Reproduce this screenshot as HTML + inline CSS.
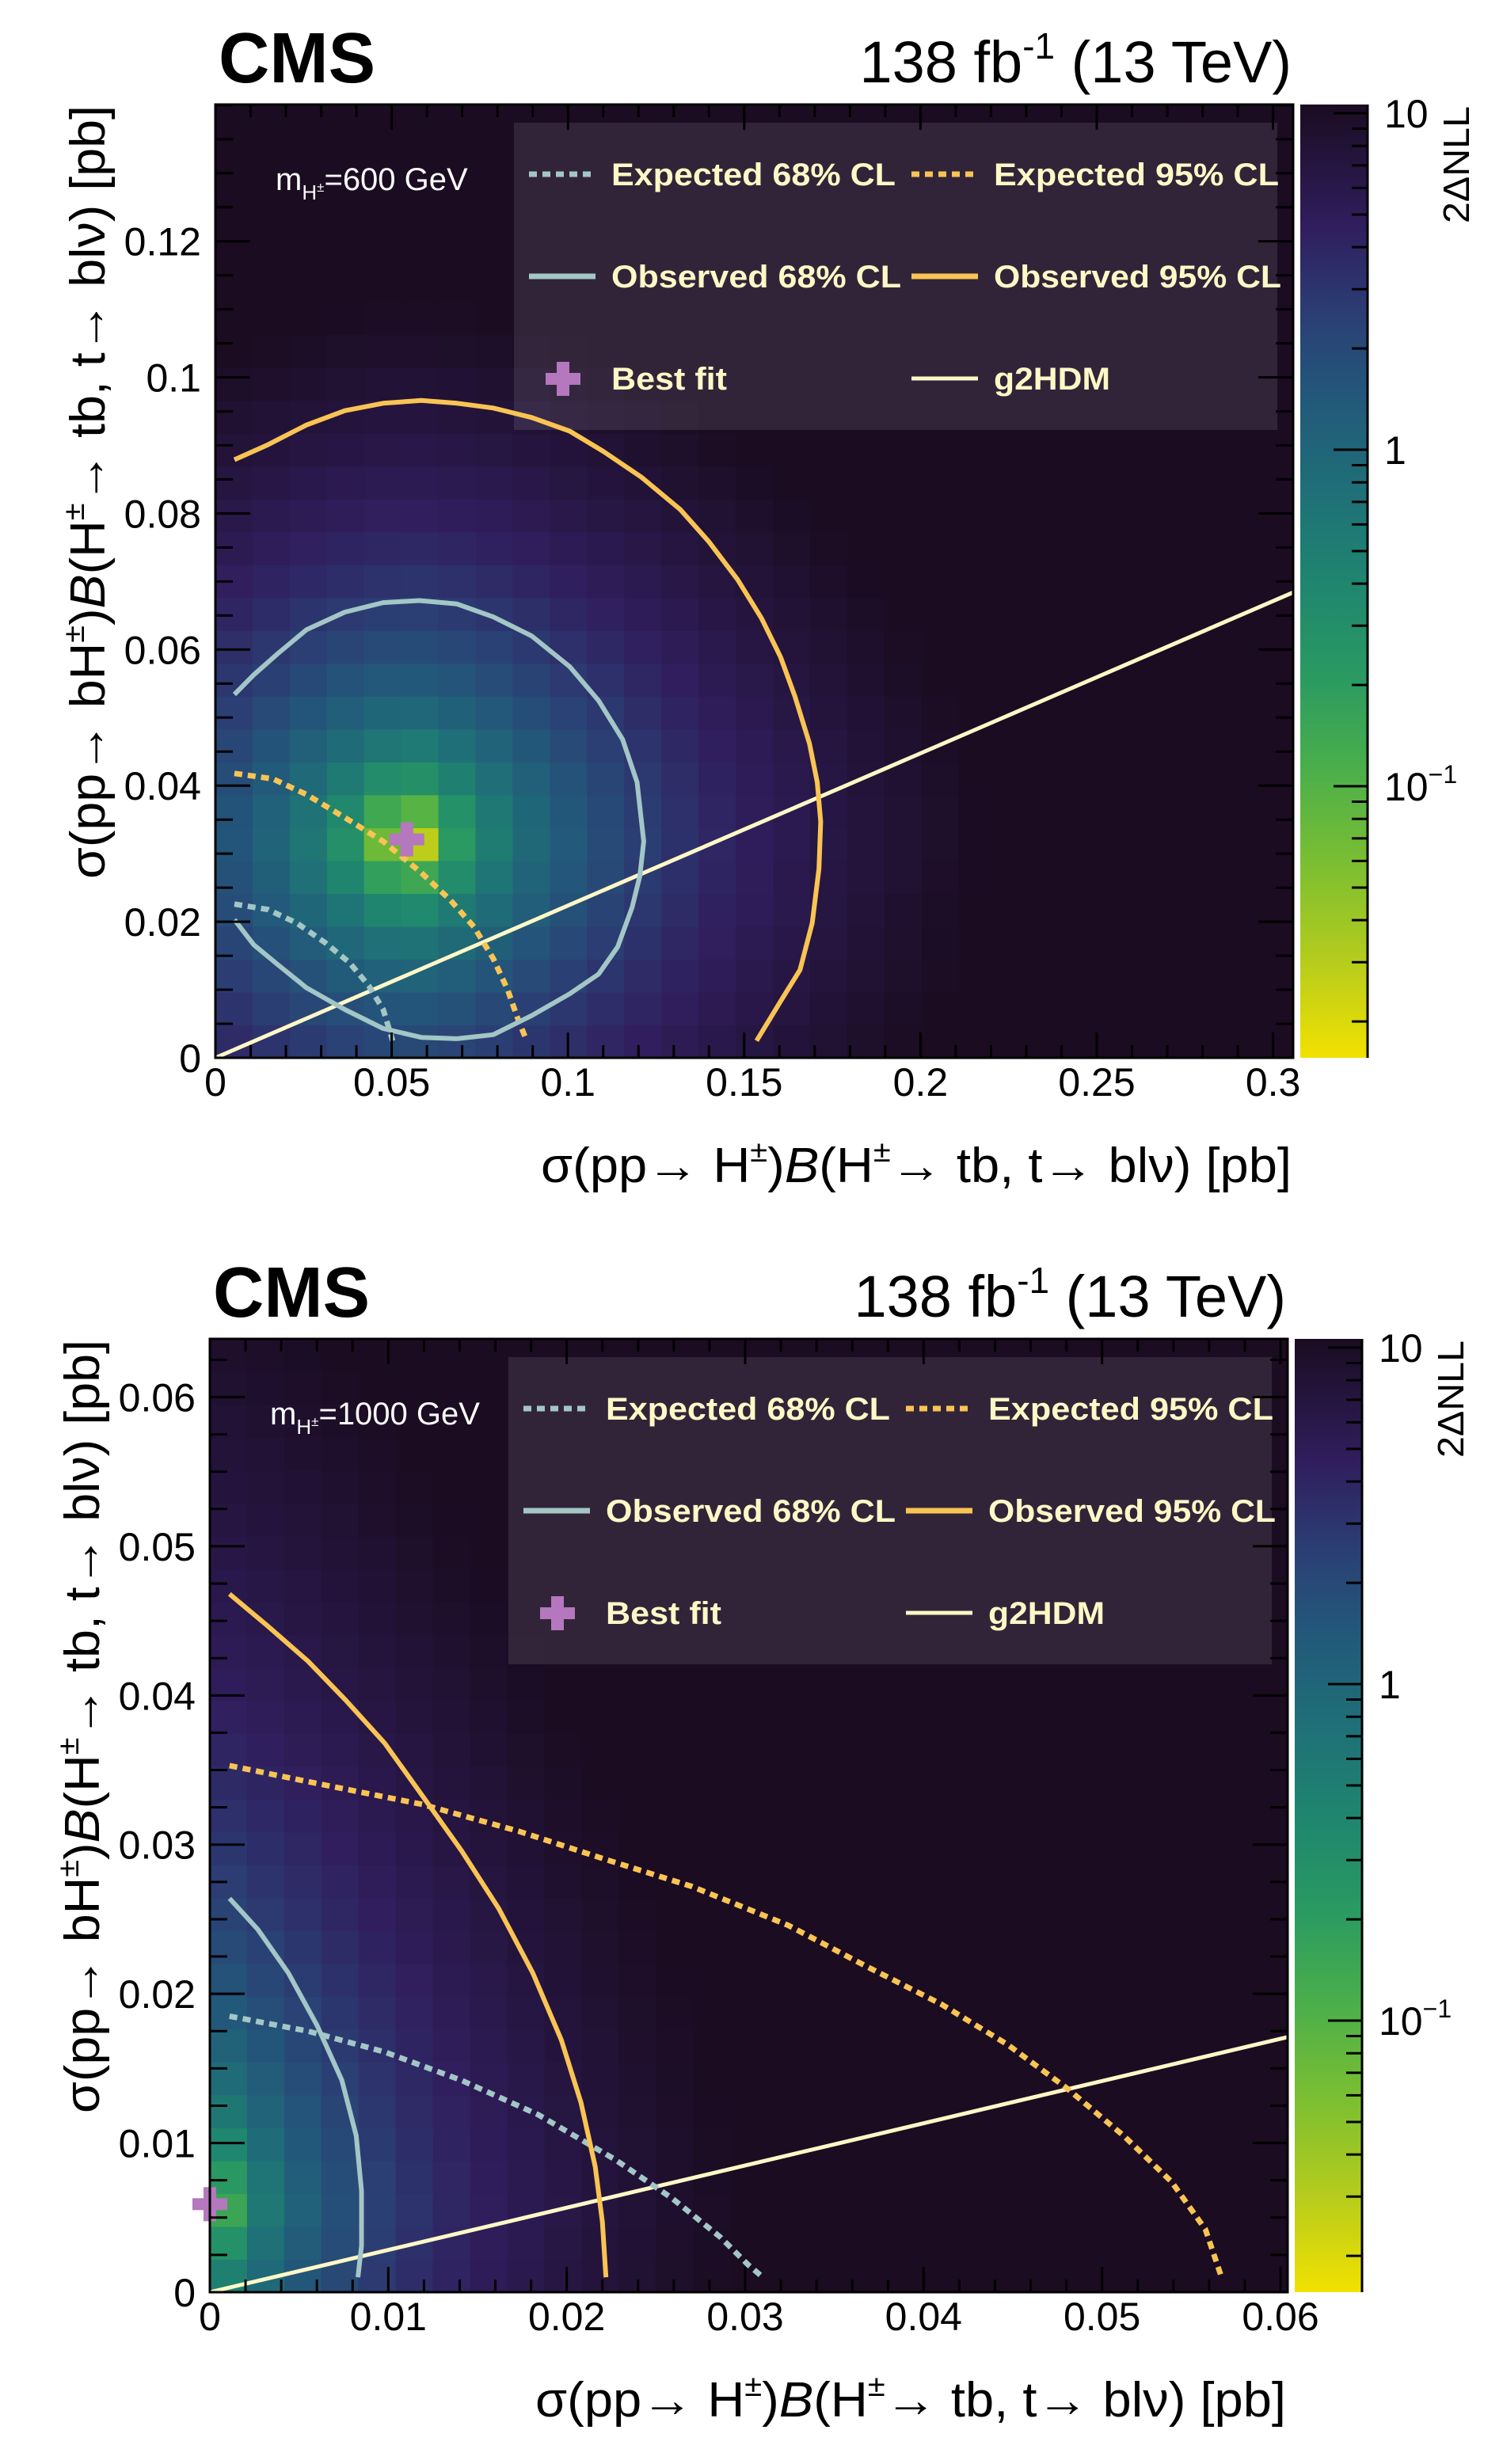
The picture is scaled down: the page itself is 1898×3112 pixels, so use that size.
<!DOCTYPE html>
<html><head><meta charset="utf-8"><title>CMS 2ΔNLL scans</title>
<style>
html,body{margin:0;padding:0;background:#fff;}
svg{display:block;font-family:"Liberation Sans",Arial,sans-serif;}
</style></head>
<body>
<svg id="fig" xmlns="http://www.w3.org/2000/svg" width="1898" height="3112" viewBox="0 0 1898 3112"></svg>
<script>
// ---------- Panel 1: m_H = 600 GeV ----------
const p1Title = "600";
const p1XRange = [0, 0.3057];
const p1YRange = [0, 0.1401];
const p1XTicks = [0, 0.05, 0.1, 0.15, 0.2, 0.25, 0.3];
const p1XTickLabels = ["0", "0.05", "0.1", "0.15", "0.2", "0.25", "0.3"];
const p1YTicks = [0, 0.02, 0.04, 0.06, 0.08, 0.1, 0.12];
const p1YTickLabels = ["0", "0.02", "0.04", "0.06", "0.08", "0.1", "0.12"];
const p1XMinorStep = [0.01];
const p1YMinorStep = [0.005];
const p1BestFit = [0.0543, 0.0321];
const p1NllWidth = [0.0374, 0.0196];
const p1NllPower = [1.6, 1.7];
const p1ObsCL95X = [0.0054,0.0149,0.0258,0.0367,0.0476,0.0584,0.0685,0.0788,0.0897,0.1005,0.1101,0.1209,0.1318,0.1399,0.1481,0.1549,0.1603,0.1644,0.1685,0.1707,0.1717,0.1712,0.1693,0.1658,0.1603,0.1535];
const p1ObsCL95Y = [0.0879,0.0901,0.0930,0.0951,0.0962,0.0966,0.0962,0.0955,0.0941,0.0921,0.0891,0.0853,0.0806,0.0759,0.0703,0.0646,0.0589,0.0531,0.0462,0.0405,0.0347,0.0278,0.0198,0.0129,0.0083,0.0025];
const p1ObsCL68X = [0.0054,0.0109,0.0177,0.0258,0.0367,0.0476,0.0579,0.0685,0.0788,0.0897,0.1005,0.1087,0.1155,0.1196,0.1215,0.1204,0.1182,0.1141,0.1087,0.1005,0.0897,0.0788,0.0685,0.0584,0.0476,0.0367,0.0258,0.0177,0.0109,0.0054];
const p1ObsCL68Y = [0.0534,0.0563,0.0594,0.0629,0.0655,0.0669,0.0672,0.0667,0.0648,0.0620,0.0575,0.0525,0.0468,0.0405,0.0318,0.0267,0.0221,0.0163,0.0123,0.0094,0.0062,0.0034,0.0028,0.0030,0.0043,0.0071,0.0103,0.0137,0.0166,0.0203];
const p1ExpCL95X = [0.0054,0.0163,0.0258,0.0367,0.0476,0.0584,0.0666,0.0734,0.0788,0.0829,0.0856,0.0883];
const p1ExpCL95Y = [0.0418,0.0410,0.0387,0.0353,0.0318,0.0272,0.0232,0.0192,0.0146,0.0100,0.0060,0.0025];
const p1ExpCL68X = [0.0054,0.0149,0.0231,0.0312,0.0380,0.0435,0.0476,0.0503];
const p1ExpCL68Y = [0.0226,0.0218,0.0198,0.0169,0.0140,0.0106,0.0071,0.0025];
const p1G2hdmX = [0, 0.3057];
const p1G2hdmY = [0, 0.0684];

// ---------- Panel 2: m_H = 1000 GeV ----------
const p2Title = "1000";
const p2XRange = [0, 0.0604];
const p2YRange = [0, 0.0639];
const p2XTicks = [0, 0.01, 0.02, 0.03, 0.04, 0.05, 0.06];
const p2XTickLabels = ["0", "0.01", "0.02", "0.03", "0.04", "0.05", "0.06"];
const p2YTicks = [0, 0.01, 0.02, 0.03, 0.04, 0.05, 0.06];
const p2YTickLabels = ["0", "0.01", "0.02", "0.03", "0.04", "0.05", "0.06"];
const p2XMinorStep = [0.002];
const p2YMinorStep = [0.0025];
const p2BestFit = [0.0, 0.0059];
const p2NllWidth = [0.0048, 0.011];
const p2NllPower = [1.3, 1.33];
const p2ObsCL95X = [0.0011,0.0032,0.0055,0.0076,0.0098,0.0119,0.0141,0.0162,0.0181,0.0197,0.0208,0.0216,0.0220,0.0222];
const p2ObsCL95Y = [0.0468,0.0447,0.0423,0.0397,0.0368,0.0333,0.0296,0.0257,0.0214,0.0169,0.0127,0.0084,0.0047,0.0010];
const p2ObsCL68X = [0.0011,0.0027,0.0044,0.0060,0.0074,0.0082,0.0085,0.0085,0.0083];
const p2ObsCL68Y = [0.0264,0.0243,0.0214,0.0179,0.0142,0.0105,0.0068,0.0031,0.0010];
const p2ExpCL95X = [0.0011,0.0060,0.0119,0.0173,0.0222,0.0270,0.0324,0.0367,0.0410,0.0447,0.0480,0.0512,0.0539,0.0558,0.0567];
const p2ExpCL95Y = [0.0353,0.0341,0.0327,0.0309,0.0290,0.0272,0.0246,0.0219,0.0193,0.0166,0.0137,0.0105,0.0074,0.0042,0.0010];
const p2ExpCL68X = [0.0011,0.0055,0.0098,0.0141,0.0184,0.0227,0.0259,0.0286,0.0302,0.0310];
const p2ExpCL68Y = [0.0185,0.0175,0.0161,0.0142,0.0119,0.0089,0.0063,0.0037,0.0018,0.0010];
const p2G2hdmX = [0, 0.0604];
const p2G2hdmY = [0, 0.0171];

const zRange = [-1.807, 1.026]; // log10 of 2ΔNLL colour range
const zTicks = [10, 1, 0.1];

const NS = "http://www.w3.org/2000/svg";
const svg = document.getElementById("fig");
function mk(tag, attrs, parent) {
  const e = document.createElementNS(NS, tag);
  for (const k in attrs) e.setAttribute(k, attrs[k]);
  (parent || svg).appendChild(e);
  return e;
}
const stops = [[0,[242,225,0]],[0.1,[182,204,28]],[0.2,[125,191,49]],[0.3,[76,175,74]],[0.4,[42,154,98]],[0.5,[31,133,111]],[0.6,[31,110,120]],[0.7,[35,86,122]],[0.78,[43,62,116]],[0.87,[48,30,94]],[1,[27,12,34]]];
function cmap(t) {
  t = Math.max(0, Math.min(1, t));
  for (let i = 1; i < stops.length; i++) {
    if (t <= stops[i][0]) {
      const a = stops[i-1], b = stops[i], f = (t - a[0]) / (b[0] - a[0]);
      const c = a[1].map((v, j) => Math.round(v + (b[1][j] - v) * f));
      return "rgb(" + c.join(",") + ")";
    }
  }
  return "rgb(27,12,34)";
}

function panel(P, ox, oy) {
  const L = 272 + ox, T = 132 + oy, W = 1361, H = 1204;
  const g = mk("g", {});
  
  
  const sx = v => L + (v - P.xr[0]) / (P.xr[1] - P.xr[0]) * W;
  const sy = v => T + H - (v - P.yr[0]) / (P.yr[1] - P.yr[0]) * H;

  const hm = mk("g", {}, g);
  
  
  const nb = 29;
  for (let i = 0; i < nb; i++) for (let j = 0; j < nb; j++) {
    const x0 = P.xr[0] + (P.xr[1] - P.xr[0]) * i / nb, x1 = P.xr[0] + (P.xr[1] - P.xr[0]) * (i + 1) / nb;
    const y0 = P.yr[0] + (P.yr[1] - P.yr[0]) * j / nb, y1 = P.yr[0] + (P.yr[1] - P.yr[0]) * (j + 1) / nb;
    const cx = (x0 + x1) / 2, cy = (y0 + y1) / 2;
    const v = Math.pow(Math.abs(cx - P.bf[0]) / P.w[0], P.p[0]) + Math.pow(Math.abs(cy - P.bf[1]) / P.w[1], P.p[1]);
    const t = (Math.log10(Math.max(v, 1e-3)) - zRange[0]) / (zRange[1] - zRange[0]);
    const r = mk("rect", {x: sx(x0).toFixed(1), y: sy(y1).toFixed(1), width: (sx(x1) - sx(x0) + 0.6).toFixed(1), height: (sy(y0) - sy(y1) + 0.6).toFixed(1), fill: cmap(t)}, hm);
    
    
  }

  const lg = mk("g", {}, g);
  
  
  mk("rect", {x: 649 + ox, y: 155 + oy, width: 964, height: 388, fill: "rgba(255,255,255,0.1)"}, lg);
  const cream = "#fff8c6";
  const rows = [
    [668, 220, "Expected 68% CL", "#a3c6c6", "10 7", "legend-expected-68"],
    [1151, 220, "Expected 95% CL", "#f9c453", "10 7", "legend-expected-95"],
    [668, 349, "Observed 68% CL", "#a3c6c6", "", "legend-observed-68"],
    [1151, 349, "Observed 95% CL", "#f9c453", "", "legend-observed-95"],
    [1151, 478, "g2HDM", cream, "", "legend-g2hdm"]
  ];
  const tl = {"Expected 68% CL": 359, "Expected 95% CL": 360, "Observed 68% CL": 366, "Observed 95% CL": 363, "g2HDM": 147};
  rows.forEach(r => {
    const e = mk("g", {}, lg);
    
    
    const ln = {x1: r[0] + ox, x2: r[0] + 84 + ox, y1: r[1] + oy, y2: r[1] + oy, stroke: r[3], "stroke-width": r[5] === "legend-g2hdm" ? 5 : 7};
    if (r[4]) ln["stroke-dasharray"] = r[4];
    mk("line", ln, e);
    const tx = mk("text", {x: r[0] + 104 + ox, y: r[1] + 14 + oy, "font-size": 40, "font-weight": "bold", fill: cream, textLength: tl[r[2]], lengthAdjust: "spacingAndGlyphs"}, e);
    tx.textContent = r[2];
  });
  const bfl = mk("g", {}, lg);
  
  
  mk("rect", {x: 689 + ox, y: 471 + oy, width: 44, height: 15, fill: "#b577bd"}, bfl);
  mk("rect", {x: 703 + ox, y: 457 + oy, width: 16, height: 43, fill: "#b577bd"}, bfl);
  const bft = mk("text", {x: 772 + ox, y: 492 + oy, "font-size": 40, "font-weight": "bold", fill: cream, textLength: 146, lengthAdjust: "spacingAndGlyphs"}, bfl);
  bft.textContent = "Best fit";

  const ml = mk("text", {x: 348 + ox, y: 240 + oy, "font-size": 40, fill: "#ffffff"}, g);
  
  
  ml.innerHTML = 'm<tspan font-size="26" dy="12">H</tspan><tspan font-size="17" dy="-10">±</tspan><tspan dy="-2">=' + P.title + ' GeV</tspan>';

  function curve(xs, ys, color, dash, width, name) {
    const d = xs.map((x, k) => (k ? "L" : "M") + sx(x).toFixed(1) + "," + sy(ys[k]).toFixed(1)).join(" ");
    const a = {d: d, fill: "none", stroke: color, "stroke-width": width, "stroke-linejoin": "round"};
    if (dash) a["stroke-dasharray"] = dash;
    const e = mk("path", a, g);
    
    
  }
  curve(P.g2x, P.g2y, cream, "", 5, "g2hdm-line");
  curve(P.e68x, P.e68y, "#a3c6c6", "10 7", 7, "expected-68-contour");
  curve(P.e95x, P.e95y, "#f9c453", "10 7", 7, "expected-95-contour");
  curve(P.o68x, P.o68y, "#a3c6c6", "", 6, "observed-68-contour");
  curve(P.o95x, P.o95y, "#f9c453", "", 6, "observed-95-contour");
  const bx = sx(P.bf[0]), by = sy(P.bf[1]);
  const bfm = mk("g", {}, g);
  
  
  mk("rect", {x: bx - 22, y: by - 7.5, width: 44, height: 15, fill: "#b577bd"}, bfm);
  mk("rect", {x: bx - 8, y: by - 21.5, width: 16, height: 43, fill: "#b577bd"}, bfm);

  const tk = mk("g", {stroke: "#000", "stroke-width": 3}, g);
  
  
  const isMajor = (v, arr) => arr.some(a => Math.abs(a - v) < 1e-9);
  for (let v = P.xr[0]; v <= P.xr[1] + 1e-9; v += P.xm) {
    const vv = Math.round(v / P.xm) * P.xm, len = isMajor(vv, P.xt) ? 32 : 16, X = sx(vv);
    mk("line", {x1: X, x2: X, y1: T + H, y2: T + H - len}, tk);
    mk("line", {x1: X, x2: X, y1: T, y2: T + len}, tk);
  }
  for (let v = P.yr[0]; v <= P.yr[1] + 1e-9; v += P.ym) {
    const vv = Math.round(v / P.ym) * P.ym, len = isMajor(vv, P.yt) ? 44 : 22, Y = sy(vv);
    mk("line", {x1: L, x2: L + len, y1: Y, y2: Y}, tk);
    mk("line", {x1: L + W, x2: L + W - len, y1: Y, y2: Y}, tk);
  }
  const fr = mk("rect", {x: L, y: T, width: W, height: H, fill: "none", stroke: "#000", "stroke-width": 3}, g);
  
  

  P.xt.forEach((v, k) => {
    const t = mk("text", {x: sx(v), y: T + H + 48, "font-size": 50, "text-anchor": "middle"}, g);
    
    
    t.textContent = P.xtl[k];
  });
  P.yt.forEach((v, k) => {
    const t = mk("text", {x: L - 18, y: sy(v) + 18, "font-size": 50, "text-anchor": "end"}, g);
    
    
    t.textContent = P.ytl[k];
  });

  const cms = mk("text", {x: 276 + ox, y: 104 + oy, "font-size": 90, "font-weight": "bold", textLength: 198, lengthAdjust: "spacingAndGlyphs"}, g);
  
  
  cms.textContent = "CMS";
  const lumi = mk("text", {x: 1631 + ox, y: 104 + oy, "font-size": 74, "text-anchor": "end"}, g);
  
  
  lumi.innerHTML = '138 fb<tspan font-size="46" dy="-30">-1</tspan><tspan dy="30"> (13 TeV)</tspan>';
  const xt = mk("text", {x: 683 + ox, y: 1493 + oy, "font-size": 62, textLength: 948, lengthAdjust: "spacingAndGlyphs"}, g);
  
  
  xt.innerHTML = 'σ(pp→ H<tspan font-size="38" dy="-26">±</tspan><tspan dy="26">)</tspan><tspan font-style="italic">B</tspan>(H<tspan font-size="38" dy="-26">±</tspan><tspan dy="26">→ tb, t→ blν) [pb]</tspan>';
  const yt = mk("text", {x: 0, y: 0, "font-size": 62, textLength: 977, lengthAdjust: "spacingAndGlyphs", transform: "translate(" + (132 + ox) + "," + (1110 + oy) + ") rotate(-90)"}, g);
  
  
  yt.innerHTML = 'σ(pp→ bH<tspan font-size="38" dy="-26">±</tspan><tspan dy="26">)</tspan><tspan font-style="italic">B</tspan>(H<tspan font-size="38" dy="-26">±</tspan><tspan dy="26">→ tb, t→ blν) [pb]</tspan>';

  const cb = mk("g", {}, g);
  
  
  const CX = 1642 + ox, CW = 85;
  const gid = "cbg" + P.title;
  const defs = mk("defs", {}, cb);
  const lgd = mk("linearGradient", {id: gid, x1: 0, y1: 1, x2: 0, y2: 0}, defs);
  stops.forEach(s => mk("stop", {offset: s[0], "stop-color": "rgb(" + s[1].join(",") + ")"}, lgd));
  mk("rect", {x: CX, y: T, width: CW, height: H, fill: "url(#" + gid + ")"}, cb);
  mk("line", {x1: CX + CW, x2: CX + CW, y1: T, y2: T + H, stroke: "#000", "stroke-width": 3}, cb);
  const zy = lv => T + H - (lv - zRange[0]) / (zRange[1] - zRange[0]) * H;
  for (let dec = -2; dec <= 1; dec++) for (let m = 1; m <= 9; m++) {
    const lv = dec + Math.log10(m);
    if (lv < zRange[0] || lv > zRange[1]) continue;
    const len = m === 1 ? 43 : 20;
    mk("line", {x1: CX + CW - len, x2: CX + CW, y1: zy(lv), y2: zy(lv), stroke: "#000", "stroke-width": 3}, cb);
  }
  zTicks.forEach(v => {
    const t = mk("text", {x: CX + 106, y: zy(Math.log10(v)) + 18, "font-size": 50}, cb);
    
    
    if (v === 0.1) t.innerHTML = '10<tspan font-size="32" dy="-22">−1</tspan>';
    else t.textContent = String(v);
  });
  const zt = mk("text", {x: 0, y: 0, "font-size": 46, "text-anchor": "end", textLength: 148, lengthAdjust: "spacingAndGlyphs", transform: "translate(" + (1855 + ox) + "," + (134 + oy) + ") rotate(-90)"}, cb);
  
  
  zt.textContent = "2ΔNLL";
}

panel({title: p1Title, xr: p1XRange, yr: p1YRange, xt: p1XTicks, xtl: p1XTickLabels, yt: p1YTicks, ytl: p1YTickLabels, xm: p1XMinorStep[0], ym: p1YMinorStep[0], bf: p1BestFit, w: p1NllWidth, p: p1NllPower,
  o95x: p1ObsCL95X, o95y: p1ObsCL95Y, o68x: p1ObsCL68X, o68y: p1ObsCL68Y, e95x: p1ExpCL95X, e95y: p1ExpCL95Y, e68x: p1ExpCL68X, e68y: p1ExpCL68Y, g2x: p1G2hdmX, g2y: p1G2hdmY}, 0, 0);
panel({title: p2Title, xr: p2XRange, yr: p2YRange, xt: p2XTicks, xtl: p2XTickLabels, yt: p2YTicks, ytl: p2YTickLabels, xm: p2XMinorStep[0], ym: p2YMinorStep[0], bf: p2BestFit, w: p2NllWidth, p: p2NllPower,
  o95x: p2ObsCL95X, o95y: p2ObsCL95Y, o68x: p2ObsCL68X, o68y: p2ObsCL68Y, e95x: p2ExpCL95X, e95y: p2ExpCL95Y, e68x: p2ExpCL68X, e68y: p2ExpCL68Y, g2x: p2G2hdmX, g2y: p2G2hdmY}, -7, 1559);
</script>
</body></html>
